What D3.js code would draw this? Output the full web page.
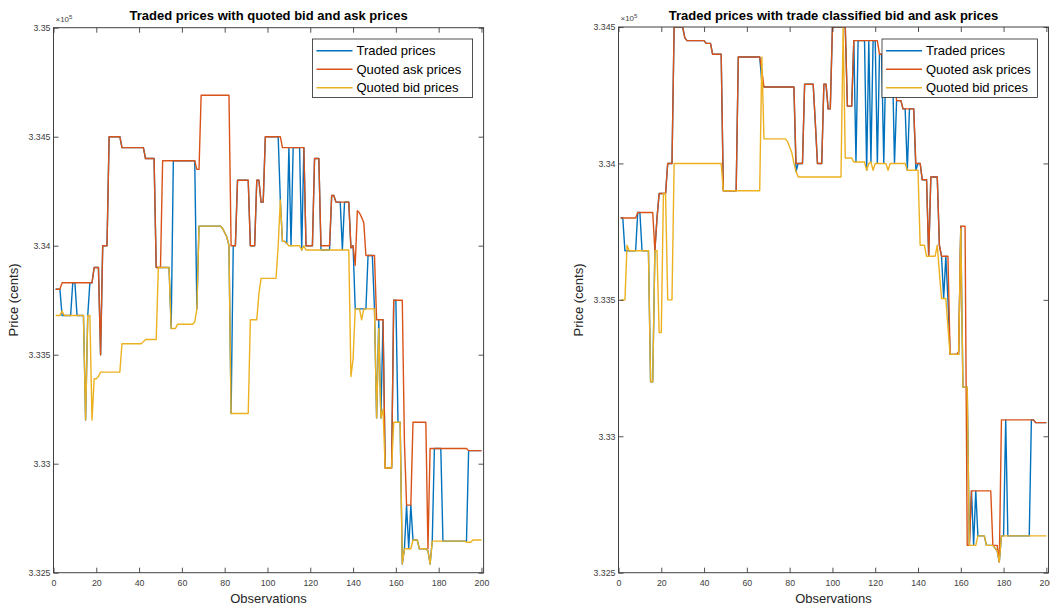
<!DOCTYPE html>
<html>
<head>
<meta charset="utf-8">
<script src="https://cdn.jsdelivr.net/npm/d3@7"></script>
<style>
  body { margin: 0; background: #fff; }
  svg { display: block; font-family: "Liberation Sans", Arial, Helvetica, sans-serif; }
</style>
</head>
<body>
<svg id="chart" width="1050" height="607"></svg>
<script>
// prices in cents, observations 1..200
var leftTraded = [
  333800,333800,333800,333680,333680,333680,333680,333680,333830,333830,
  333680,333680,333680,333680,333200,333680,333830,333830,333900,333900,
  333900,333500,334000,334000,334000,334500,334500,334500,334500,334500,
  334500,334450,334450,334450,334450,334450,334450,334450,334450,334450,
  334450,334450,334400,334400,334400,334400,334400,333900,333900,333900,
  333900,333900,333900,333900,333620,334390,334390,334390,334390,334390,
  334390,334390,334390,334390,334390,334390,333710,334090,334090,334090,
  334090,334090,334090,334090,334090,334090,334090,334090,334080,334060,
  334040,334000,333230,334000,334000,334300,334300,334300,334300,334300,
  334300,334000,334000,334000,334300,334300,334200,334200,334500,334500,
  334500,334500,334500,334500,334500,334210,334020,334020,334010,334450,
  334000,334450,334450,334450,334450,333980,334450,334000,334000,334000,
  334000,334400,334400,334400,333980,333980,333980,333980,333980,334230,
  334230,334200,334200,334200,333980,334200,334200,334200,333990,334000,
  333710,333710,333710,333710,333710,333710,333955,333955,333955,333710,
  333210,333660,333210,333660,332980,332980,332980,332980,333750,333750,
  333190,333190,332540,332610,332810,332610,332810,332650,332650,332650,
  332610,332610,332610,332610,332600,332540,332645,333070,333070,333070,
  333070,332645,332645,332645,332645,332645,332645,332645,332645,332645,
  332645,332645,332645,333060,333060,333060,333060,333060,333060,333060
];
var leftAsk = [
  333800,333800,333800,333830,333830,333830,333830,333830,333830,333830,
  333830,333830,333830,333830,333830,333830,333830,333830,333900,333900,
  333900,333500,334000,334000,334000,334500,334500,334500,334500,334500,
  334500,334450,334450,334450,334450,334450,334450,334450,334450,334450,
  334450,334450,334400,334400,334400,334400,334400,333900,333900,333900,
  334390,334390,334390,334390,334390,334390,334390,334390,334390,334390,
  334390,334390,334390,334390,334390,334390,334350,334350,334690,334690,
  334690,334690,334690,334690,334690,334690,334690,334690,334690,334690,
  334690,334690,334000,334000,334000,334300,334300,334300,334300,334300,
  334300,334000,334000,334000,334300,334300,334200,334200,334500,334500,
  334500,334500,334500,334500,334500,334500,334450,334450,334450,334450,
  334450,334450,334450,334450,334450,334450,334450,334000,334000,334000,
  334000,334400,334400,334400,334000,334000,334000,334000,334000,334230,
  334230,334200,334200,334200,334200,334200,334200,334200,333990,334000,
  333910,334160,334150,334130,334105,333955,333955,333955,333955,333955,
  333660,333660,333660,333660,332980,332980,332980,332980,333750,333750,
  333750,333750,333750,333100,332810,332810,332810,333190,333190,333190,
  333190,333190,333190,333190,332610,333070,333070,333070,333070,333070,
  333070,333070,333070,333070,333070,333070,333070,333070,333070,333070,
  333070,333070,333070,333060,333060,333060,333060,333060,333060,333060
];
var leftBid = [
  333680,333680,333680,333700,333680,333680,333680,333680,333680,333680,
  333680,333680,333680,333680,333200,333680,333680,333200,333390,333390,
  333400,333420,333420,333420,333420,333420,333420,333420,333420,333420,
  333420,333550,333550,333550,333550,333550,333550,333550,333550,333550,
  333550,333560,333570,333570,333570,333570,333570,333570,333900,333900,
  333900,333900,333900,333900,333620,333620,333620,333640,333640,333640,
  333640,333640,333640,333640,333640,333650,333710,334090,334090,334090,
  334090,334090,334090,334090,334090,334090,334090,334090,334080,334060,
  334040,334000,333230,333230,333230,333230,333230,333230,333230,333230,
  333230,333660,333660,333660,333660,333780,333850,333850,333850,333850,
  333850,333850,333850,333850,334000,334210,334020,334020,334010,334000,
  334000,334000,334000,334000,334000,333980,334000,333980,333980,333980,
  333980,333980,333980,333980,333980,333980,333980,333980,333980,333980,
  333980,333980,333980,333980,333980,333980,333980,333980,333400,333480,
  333710,333710,333710,333660,333710,333710,333710,333710,333710,333710,
  333210,333620,333210,333250,332980,332980,332980,332980,333190,333190,
  333190,333190,332540,332610,332610,332610,332610,332650,332650,332650,
  332610,332610,332610,332610,332600,332540,332645,332645,332645,332645,
  332645,332645,332645,332645,332645,332645,332645,332645,332645,332645,
  332645,332645,332640,332640,332640,332650,332650,332650,332650,332650
];
var rightTraded = [
  333800,333800,333680,333680,333680,333680,333680,333680,333820,333820,
  333680,333680,333680,333680,333200,333200,333680,333800,333890,333890,
  333890,333890,334000,334000,334000,334500,334500,334500,334500,334500,
  334460,334450,334450,334450,334450,334450,334450,334450,334450,334450,
  334440,334440,334440,334400,334400,334400,334400,334400,333900,333900,
  333900,333900,333900,333900,333900,334390,334390,334390,334390,334390,
  334390,334390,334390,334390,334390,334390,334300,334280,334280,334280,
  334280,334280,334280,334280,334280,334280,334280,334280,334280,334280,
  334280,334280,333970,334000,334000,334000,334290,334290,334290,334290,
  334290,334150,334000,334000,334000,334290,334290,334200,334200,334500,
  334500,334500,334500,334500,334500,334500,334210,334210,334210,334450,
  334005,334450,334450,334450,334450,333975,334450,334005,334450,334450,
  334000,334400,334400,334000,334400,334400,334400,334400,334000,334230,
  334230,334230,334200,334200,333975,334200,334200,334200,333975,334000,
  334000,333940,333940,333940,333660,333950,333950,333950,333950,333700,
  333660,333505,333660,333500,333300,333300,333300,333300,333300,333770,
  333180,333180,333180,332600,332800,332600,332800,332635,332635,332635,
  332635,332600,332600,332600,332600,332590,332580,332540,332635,332635,
  333060,332635,332635,332635,332635,332635,332635,332635,332635,332635,
  332635,332635,333060,333060,333050,333050,333050,333050,333050,333050
];
var rightAsk = [
  333800,333800,333800,333800,333800,333800,333800,333800,333820,333820,
  333820,333820,333820,333820,333820,333820,333680,333800,333890,333890,
  333890,333890,334000,334000,334000,334500,334500,334500,334500,334500,
  334460,334450,334450,334450,334450,334450,334450,334450,334450,334450,
  334440,334440,334440,334400,334400,334400,334400,334400,333900,333900,
  333900,333900,333900,333900,333900,334390,334390,334390,334390,334390,
  334390,334390,334390,334390,334390,334390,334340,334280,334280,334280,
  334280,334280,334280,334280,334280,334280,334280,334280,334280,334280,
  334280,334280,334000,334000,334000,334000,334290,334290,334290,334290,
  334290,334150,334000,334000,334000,334290,334290,334200,334200,334500,
  334500,334500,334500,334500,334500,334500,334210,334210,334210,334450,
  334450,334450,334450,334450,334450,334450,334450,334450,334450,334450,
  334450,334400,334400,334400,334400,334400,334400,334400,334300,334230,
  334230,334230,334200,334200,334200,334200,334200,334200,334000,334000,
  334000,333940,333940,333940,333660,333950,333950,333950,333950,333700,
  333660,333660,333660,333660,333300,333300,333300,333300,333310,333770,
  333770,333770,332600,332600,332800,332800,332800,332800,332800,332800,
  332800,332800,332800,332800,332600,332600,332600,332540,333060,333060,
  333060,333060,333060,333060,333060,333060,333060,333060,333060,333060,
  333060,333060,333060,333060,333050,333050,333050,333050,333050,333050
];
var rightBid = [
  333500,333500,333500,333700,333680,333680,333680,333680,333680,333680,
  333680,333680,333680,333680,333200,333200,333680,333680,333380,333380,
  333890,333890,333500,333500,333500,334000,334000,334000,334000,334000,
  334000,334000,334000,334000,334000,334000,334000,334000,334000,334000,
  334000,334000,334000,334000,334000,334000,334000,334000,333900,333900,
  333900,333900,333900,333900,333900,333900,333900,333900,333900,333900,
  333900,333900,333900,333900,333900,333900,334390,334090,334090,334090,
  334090,334090,334090,334090,334090,334090,334090,334090,334080,334060,
  334040,334000,333970,333950,333950,333950,333950,333950,333950,333950,
  333950,333950,333950,333950,333950,333950,333950,333950,333950,333950,
  333950,333950,333950,333950,334500,334020,334020,334020,334020,334005,
  334005,334005,334005,334005,334005,333975,334000,334005,333975,334000,
  334000,334000,334000,334000,334000,333975,334000,334000,334000,334000,
  334000,334000,334000,334000,333975,333975,333975,333975,333975,333975,
  333700,333700,333700,333660,333660,333660,333660,333660,333700,333600,
  333505,333505,333505,333400,333300,333300,333300,333300,333300,333760,
  333180,333180,333180,332600,332600,332600,332600,332635,332635,332635,
  332635,332600,332600,332600,332600,332590,332580,332540,332635,332635,
  332635,332635,332635,332635,332635,332635,332635,332635,332635,332635,
  332635,332635,332635,332635,332635,332635,332635,332635,332635,332635
];

var xTicks = [0, 20, 40, 60, 80, 100, 120, 140, 160, 180, 200];
var leftYTicks = [332500, 333000, 333500, 334000, 334500, 335000];
var rightYTicks = [332500, 333000, 333500, 334000, 334500];
var seriesNames = ["Traded prices", "Quoted ask prices", "Quoted bid prices"];
var seriesColors = ["#0072BD", "#D95319", "#EDB120"];

var svg = d3.select("#chart");

function drawPanel(id, title, xRange, yDomain, yRange, yTicks, series, legendX) {
  var x = d3.scaleLinear().domain([0, 201]).range(xRange);
  var y = d3.scaleLinear().domain(yDomain).range(yRange);
  var left = xRange[0], right = xRange[1], top = yRange[1], bottom = yRange[0];

  var g = svg.append("g").attr("class", "panel-" + id);

  g.append("clipPath").attr("id", "clip-" + id)
    .append("rect")
      .attr("x", left).attr("y", top)
      .attr("width", right - left).attr("height", bottom - top);

  var line = d3.line()
      .x(function(d, i) { return x(i + 1); })
      .y(function(d) { return y(d); });

  var lines = g.append("g").attr("clip-path", "url(#clip-" + id + ")");
  series.forEach(function(s, k) {
    lines.append("path")
      .attr("d", line(s))
      .attr("fill", "none")
      .attr("stroke", seriesColors[k])
      .attr("stroke-width", 1.4)
      .attr("stroke-linejoin", "round");
  });

  var fmt = function(v) { return String(+(v / 1e5).toFixed(3)); };

  var axes = [
    d3.axisBottom(x).tickValues(xTicks).tickSize(-5).tickPadding(7),
    d3.axisTop(x).tickValues(xTicks).tickSize(-5).tickFormat(""),
    d3.axisLeft(y).tickValues(yTicks).tickSize(-5).tickPadding(3).tickFormat(fmt),
    d3.axisRight(y).tickValues(yTicks).tickSize(-5).tickFormat("")
  ];
  var pos = ["translate(0," + bottom + ")", "translate(0," + top + ")",
             "translate(" + left + ",0)", "translate(" + right + ",0)"];
  axes.forEach(function(a, k) {
    var ag = g.append("g").attr("transform", pos[k]).call(a.tickSizeOuter(0));
    ag.select(".domain").remove();
    ag.selectAll("line").attr("stroke", "#262626").attr("stroke-width", 0.8);
    ag.selectAll("text").attr("fill", "#404040").style("font-size", "8.8px")
      .style("font-family", "'Liberation Sans', Arial, sans-serif");
  });

  g.append("rect")
    .attr("x", left).attr("y", top)
    .attr("width", right - left).attr("height", bottom - top)
    .attr("fill", "none").attr("stroke", "#404040").attr("stroke-width", 1);

  // exponent
  var ex = g.append("text").attr("x", left + 2).attr("y", top - 6)
    .attr("fill", "#404040").style("font-size", "8px");
  ex.append("tspan").text("\u00d710");
  ex.append("tspan").attr("dy", -3).style("font-size", "6px").text("5");

  g.append("text")
    .attr("x", (left + right) / 2).attr("y", 20)
    .attr("text-anchor", "middle")
    .style("font-size", "13px").style("font-weight", "bold")
    .attr("fill", "#000")
    .text(title);

  g.append("text")
    .attr("x", (left + right) / 2).attr("y", 603)
    .attr("text-anchor", "middle")
    .style("font-size", "13px").attr("fill", "#262626")
    .text("Observations");

  g.append("text")
    .attr("transform", "translate(" + (left - 36) + ",300) rotate(-90)")
    .attr("text-anchor", "middle")
    .style("font-size", "13px").attr("fill", "#262626")
    .text("Price (cents)");

  // legend
  var lw = right - legendX - 11;
  var lg = g.append("g").attr("transform", "translate(" + legendX + ",39)");
  lg.append("rect").attr("width", lw).attr("height", 58.5)
    .attr("fill", "#fff").attr("stroke", "#262626").attr("stroke-width", 0.8);
  seriesNames.forEach(function(name, k) {
    var ry = 11.7 + k * 18.5;
    lg.append("line").attr("x1", 4).attr("x2", 40).attr("y1", ry).attr("y2", ry)
      .attr("stroke", seriesColors[k]).attr("stroke-width", 1.4);
    lg.append("text").attr("x", 44).attr("y", ry + 4.6)
      .style("font-size", "13px").attr("fill", "#000").text(name);
  });
}

drawPanel("left", "Traded prices with quoted bid and ask prices",
  [53.5, 483.6], [332500, 335000], [572.7, 27.7], leftYTicks,
  [leftTraded, leftAsk, leftBid], 312.5);

drawPanel("right", "Traded prices with trade classified bid and ask prices",
  [618.5, 1048.5], [332500, 334500], [572.7, 27], rightYTicks,
  [rightTraded, rightAsk, rightBid], 882);
</script>
</body>
</html>
